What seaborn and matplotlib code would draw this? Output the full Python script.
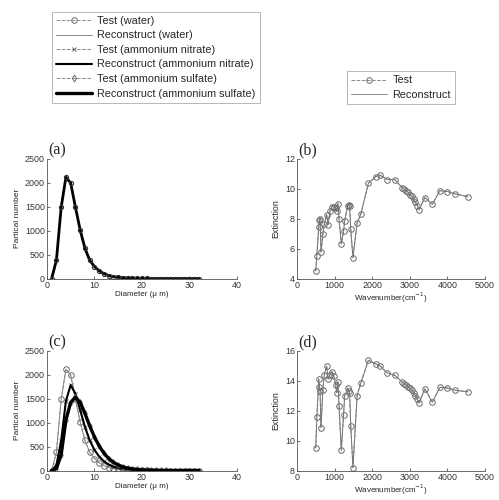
import numpy as np
import pandas as pd
import seaborn as sns
import matplotlib
matplotlib.use("Agg")
import matplotlib.pyplot as plt
from matplotlib.lines import Line2D

# ---------------- data ----------------
diameter = list(range(1, 33))
water_test = [0, 380, 1480, 2110, 1990, 1485, 1010, 630, 380, 250, 160, 100, 62, 40, 25, 16,
              10, 6, 4, 2, 1, 0, 0, 0, 0, 0, 0, 0, 0, 0, 0, 0]
nitrate = [0, 110, 620, 1450, 1780, 1600, 1260, 910, 630, 430, 290, 190, 125, 80, 52, 33,
           21, 13, 8, 5, 3, 2, 1, 0, 0, 0, 0, 0, 0, 0, 0, 0]
sulfate = [0, 40, 330, 1050, 1420, 1525, 1420, 1190, 930, 700, 510, 360, 250, 170, 115, 76,
           50, 33, 21, 14, 9, 6, 4, 2, 1, 0, 0, 0, 0, 0, 0, 0]

wn_b = [500, 530, 580, 600, 615, 640, 690, 730, 790, 830, 880, 930, 980, 1030, 1060, 1090,
        1120, 1180, 1240, 1270, 1350, 1380, 1400, 1430, 1490, 1600, 1700, 1900, 2100, 2200,
        2400, 2600, 2800, 2850, 2900, 2950, 3000, 3050, 3100, 3150, 3200, 3250, 3400, 3600,
        3800, 4000, 4200, 4550]
ext_b = [4.5, 5.5, 7.45, 7.9, 8.0, 5.75, 6.95, 7.65, 8.25, 7.6, 8.5, 8.8, 8.8, 8.7, 8.5, 9.0,
         8.0, 6.3, 7.15, 7.85, 8.85, 8.9, 8.85, 7.3, 5.4, 7.7, 8.3, 10.35, 10.8, 10.9,
         10.6, 10.6, 10.05, 9.95, 9.85, 9.75, 9.6, 9.5, 9.3, 9.1, 8.85, 8.6, 9.4, 8.95,
         9.85, 9.8, 9.65, 9.45]
ext_d = [9.5, 11.55, 14.1, 13.6, 13.3, 10.85, 13.4, 14.4, 14.95, 14.1, 14.4, 14.6, 14.3, 13.7,
         13.2, 13.9, 12.3, 9.35, 11.7, 13.0, 13.5, 13.3, 13.2, 11.0, 8.2, 13.0, 13.85, 15.35,
         15.1, 15.0, 14.5, 14.35, 13.9, 13.8, 13.7, 13.6, 13.5, 13.35, 13.2, 13.0, 12.75, 12.5,
         13.45, 12.55, 13.55, 13.5, 13.35, 13.25]

# ---------------- style ----------------
sns.set_style("ticks")
plt.rcParams["font.family"] = ["Liberation Sans", "DejaVu Sans"]
plt.rcParams["xtick.direction"] = "in"
plt.rcParams["ytick.direction"] = "in"

fig = plt.figure(figsize=(4.99, 5.00), dpi=100)

W, H = 0.381, 0.240
axa = fig.add_axes([0.094, 0.443, W, H])
axb = fig.add_axes([0.595, 0.443, 0.377, H])
axc = fig.add_axes([0.094, 0.059, W, H])
axd = fig.add_axes([0.595, 0.059, 0.377, H])

GRAY = "#8a8a8a"
MK = "#6a6a6a"

# (a)
sns.lineplot(x=diameter, y=water_test, ax=axa, estimator=None, sort=False, color="black",
             lw=2.0, marker="o", markersize=3, mfc="none", mec="#333333", mew=0.8)

# (c)
sns.lineplot(x=diameter, y=water_test, ax=axc, estimator=None, sort=False, color=GRAY,
             lw=0.7, linestyle="--", marker="o", markersize=4, mfc="none", mec=MK, mew=0.7)
sns.lineplot(x=diameter, y=water_test, ax=axc, estimator=None, sort=False, color=GRAY, lw=0.7)
sns.lineplot(x=diameter, y=nitrate, ax=axc, estimator=None, sort=False, color=GRAY,
             lw=0.7, linestyle="--", marker="x", markersize=3, mec=MK, mew=0.7)
sns.lineplot(x=diameter, y=nitrate, ax=axc, estimator=None, sort=False, color="black", lw=1.5)
sns.lineplot(x=diameter, y=sulfate, ax=axc, estimator=None, sort=False, color=GRAY,
             lw=0.7, linestyle="--", marker="d", markersize=3, mfc="none", mec=MK, mew=0.7)
sns.lineplot(x=diameter, y=sulfate, ax=axc, estimator=None, sort=False, color="black", lw=2.4)

# (b), (d)
for ax, ext in ((axb, ext_b), (axd, ext_d)):
    sns.lineplot(x=wn_b, y=ext, ax=ax, estimator=None, sort=False, color=GRAY, lw=0.7,
                 linestyle="--", marker="o", markersize=4, mfc="none", mec=MK, mew=0.7)
    sns.lineplot(x=wn_b, y=ext, ax=ax, estimator=None, sort=False, color="#777777", lw=0.7)

for ax in (axa, axc):
    ax.set_xlim(0, 40)
    ax.set_ylim(0, 2500)
    ax.set_xticks([0, 10, 20, 30, 40])
    ax.set_yticks([0, 500, 1000, 1500, 2000, 2500])
    ax.set_xlabel("Diameter (\u03bc m)", fontsize=5.8, labelpad=1)
    ax.set_ylabel("Partical number", fontsize=6.0, labelpad=3)
for ax in (axb, axd):
    ax.set_xlim(0, 5000)
    ax.set_xticks([0, 1000, 2000, 3000, 4000, 5000])
    ax.set_xlabel("Wavenumber(cm$^{-1}$)", fontsize=5.8, labelpad=1)
    ax.set_ylabel("Extinction", fontsize=6.4, labelpad=3)
axb.set_ylim(4, 12)
axb.set_yticks([4, 6, 8, 10, 12])
axd.set_ylim(8, 16)
axd.set_yticks([8, 10, 12, 14, 16])

for ax, lab in ((axa, "(a)"), (axb, "(b)"), (axc, "(c)"), (axd, "(d)")):
    sns.despine(ax=ax)
    for s in ("left", "bottom"):
        ax.spines[s].set_linewidth(0.6)
        ax.spines[s].set_color("#555555")
    ax.tick_params(labelsize=6.4, length=2, width=0.5, pad=1.5, colors="#333333")
    ax.text(0.055, 1.005, lab, transform=ax.transAxes, ha="center", va="bottom",
            fontsize=11.5, family="Liberation Serif")

# legends
h1 = [
    Line2D([], [], color=GRAY, lw=0.7, ls="--", marker="o", ms=4, mfc="none", mec=MK, mew=0.7),
    Line2D([], [], color=GRAY, lw=0.7),
    Line2D([], [], color=GRAY, lw=0.7, ls="--", marker="x", ms=3, mec=MK, mew=0.7),
    Line2D([], [], color="black", lw=1.5),
    Line2D([], [], color=GRAY, lw=0.7, ls="--", marker="d", ms=3.5, mfc="none", mec=MK, mew=0.7),
    Line2D([], [], color="black", lw=2.4),
]
l1 = ["Test (water)", "Reconstruct (water)", "Test (ammonium nitrate)",
      "Reconstruct (ammonium nitrate)", "Test (ammonium sulfate)",
      "Reconstruct (ammonium sulfate)"]
leg1 = fig.legend(h1, l1, loc="upper left", bbox_to_anchor=(0.104, 0.977), fontsize=7.8,
                  frameon=True, fancybox=False, edgecolor="#999999", handlelength=3.3,
                  handletextpad=0.5, labelspacing=0.42, borderpad=0.4, borderaxespad=0)
leg1.get_frame().set_linewidth(0.6)

h2 = [
    Line2D([], [], color=GRAY, lw=0.7, ls="--", marker="o", ms=4, mfc="none", mec=MK, mew=0.7),
    Line2D([], [], color=GRAY, lw=0.7),
]
leg2 = fig.legend(h2, ["Test", "Reconstruct"], loc="upper left", bbox_to_anchor=(0.695, 0.858),
                  fontsize=7.8, frameon=True, fancybox=False, edgecolor="#999999",
                  handlelength=3.3, handletextpad=0.5, labelspacing=0.4, borderpad=0.4,
                  borderaxespad=0)
leg2.get_frame().set_linewidth(0.6)

fig.savefig("out.png", dpi=100)
